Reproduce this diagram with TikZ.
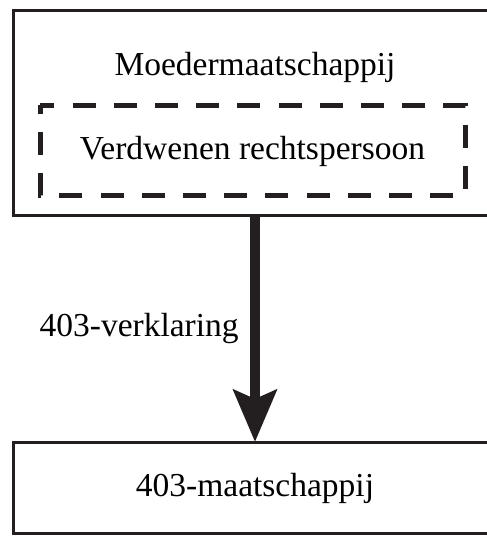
\documentclass[tikz,border=0pt]{standalone}
\usepackage{fontspec}
\setmainfont{Liberation Serif}
\usetikzlibrary{arrows.meta,positioning}
\definecolor{inkdark}{HTML}{231F20}
\tikzset{
  entitybox/.style={
    rectangle, draw=inkdark, line width=3pt, outer sep=0pt,
    minimum width=484pt, minimum height=#1, inner sep=0pt
  },
  entitybox/.default=91pt,
  mergedbox/.style={
    rectangle, outer sep=0pt,
    minimum width=425pt, minimum height=90pt, inner sep=0pt
  },
  mergedframe/.style={
    draw=inkdark, line width=5pt, line join=miter,
    dash pattern=on 23pt off 18.2pt, dash phase=8.7pt
  },
  bigarrow/.style={
    -{Stealth[length=52pt, width=43pt, inset=9pt]}, line width=10pt, color=inkdark
  },
  boxtext/.style={
    font=\fontsize{33.5pt}{40pt}\selectfont, text=black
  },
}

\begin{document}
\begin{tikzpicture}[x=1pt, y=-1pt]
  \useasboundingbox (0,0) rectangle (487,536);

  % Parent company with the vanished legal person inside
  \node[entitybox=205pt] (moeder) at (255,112.5) {};
  \node[boxtext, anchor=base] (moedertxt) at (255,75) {Moedermaatschappij};
  \node[mergedbox, boxtext, text depth=5pt] (verdwenen) at (252.5,150) {Verdwenen rechtspersoon};
  \draw[mergedframe] (verdwenen.north west) -- (verdwenen.north east)
    -- (verdwenen.south east) -- (verdwenen.south west) -- cycle;

  % 403 subsidiary
  \node[entitybox, boxtext, text depth=6pt] (dochter) at (255,487.5) {403-maatschappij};

  % Declaration
  \draw[bigarrow] (moeder.south) -- (dochter.north)
    node[midway, left=8pt, boxtext] (verklaring) {403-verklaring};
\end{tikzpicture}
\end{document}
